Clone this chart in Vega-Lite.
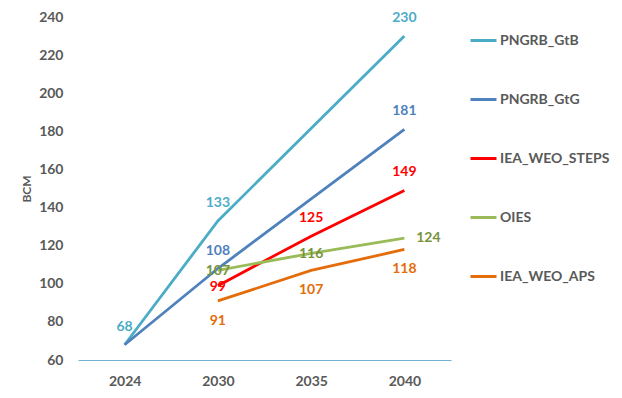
{
  "$schema": "https://vega.github.io/schema/vega-lite/v6.json",
  "autosize": "none",
  "width": 373,
  "height": 343,
  "padding": {"left": 78, "top": 17, "right": 171, "bottom": 38},
  "background": "white",
  "config": {
    "view": {"stroke": null},
    "font": "Lato",
    "axis": {"labelFont": "Lato", "labelFontWeight": "bold", "labelColor": "#595959", "labelFontSize": 14, "titleFont": "Lato", "titleColor": "#595959"},
    "legend": {"labelFont": "Lato"}
  },
  "data": {"values": [
    {"series": "PNGRB_GtB", "year": "2024", "value": 68},
    {"series": "PNGRB_GtB", "year": "2030", "value": 133},
    {"series": "PNGRB_GtB", "year": "2040", "value": 230},
    {"series": "PNGRB_GtG", "year": "2024", "value": 68},
    {"series": "PNGRB_GtG", "year": "2030", "value": 108},
    {"series": "PNGRB_GtG", "year": "2040", "value": 181},
    {"series": "IEA_WEO_STEPS", "year": "2030", "value": 99},
    {"series": "IEA_WEO_STEPS", "year": "2035", "value": 125},
    {"series": "IEA_WEO_STEPS", "year": "2040", "value": 149},
    {"series": "OIES", "year": "2030", "value": 107},
    {"series": "OIES", "year": "2035", "value": 116},
    {"series": "OIES", "year": "2040", "value": 124},
    {"series": "IEA_WEO_APS", "year": "2030", "value": 91},
    {"series": "IEA_WEO_APS", "year": "2035", "value": 107},
    {"series": "IEA_WEO_APS", "year": "2040", "value": 118}
  ]},
  "encoding": {
    "x": {"field": "year", "type": "ordinal", "sort": ["2024", "2030", "2035", "2040"],
      "scale": {"type": "point", "padding": 0.5},
      "axis": {"title": null, "labelAngle": 0, "ticks": false, "domain": true, "domainColor": "#6FB1D0", "domainWidth": 1.2, "labelPadding": 14, "grid": false}},
    "y": {"field": "value", "type": "quantitative", "scale": {"domain": [60, 240], "nice": false, "zero": false},
      "axis": {"title": "BCM", "titleFontSize": 12, "titleFontWeight": "bold", "titlePadding": 5, "values": [60, 80, 100, 120, 140, 160, 180, 200, 220, 240], "domain": false, "ticks": false, "grid": false, "labelPadding": 15}}
  },
  "resolve": {"scale": {"color": "independent"}},
  "layer": [
    {
      "mark": {"type": "line", "strokeWidth": 2.8},
      "encoding": {
        "color": {"field": "series", "type": "nominal",
          "scale": {"domain": ["PNGRB_GtB", "PNGRB_GtG", "IEA_WEO_STEPS", "OIES", "IEA_WEO_APS"], "range": ["#4BACC6", "#4F81BD", "#FF0000", "#9BBB59", "#E46C0A"]},
          "legend": {"title": null, "orient": "none", "legendX": 391, "legendY": 9, "symbolType": "stroke", "symbolSize": 676, "symbolStrokeWidth": 3, "labelFontSize": 14, "labelFontWeight": "bold", "labelColor": "#595959", "labelOffset": 2, "rowPadding": 37}}
      }
    },
    {
      "transform": [{"filter": "(datum.series == 'PNGRB_GtB') || (datum.series == 'PNGRB_GtG' && datum.year != '2024') || (datum.series == 'IEA_WEO_STEPS' && datum.year != '2030')"}],
      "mark": {"type": "text", "fontSize": 14, "fontWeight": "bold", "dy": -18, "baseline": "middle"},
      "encoding": {
        "text": {"field": "value", "type": "quantitative"},
        "color": {"field": "series", "type": "nominal", "legend": null,
          "scale": {"domain": ["PNGRB_GtB", "PNGRB_GtG", "IEA_WEO_STEPS", "OIES", "IEA_WEO_APS"], "range": ["#4BACC6", "#4F81BD", "#FF0000", "#77933C", "#E46C0A"]}}
      }
    },
    {
      "transform": [{"filter": "(datum.series == 'OIES' && datum.year != '2040') || (datum.series == 'IEA_WEO_STEPS' && datum.year == '2030')"}],
      "mark": {"type": "text", "fontSize": 14, "fontWeight": "bold", "dy": 1, "baseline": "middle"},
      "encoding": {
        "text": {"field": "value", "type": "quantitative"},
        "color": {"field": "series", "type": "nominal", "legend": null,
          "scale": {"domain": ["PNGRB_GtB", "PNGRB_GtG", "IEA_WEO_STEPS", "OIES", "IEA_WEO_APS"], "range": ["#4BACC6", "#4F81BD", "#FF0000", "#77933C", "#E46C0A"]}}
      }
    },
    {
      "transform": [{"filter": "datum.series == 'OIES' && datum.year == '2040'"}],
      "mark": {"type": "text", "fontSize": 14, "fontWeight": "bold", "dx": 24, "baseline": "middle"},
      "encoding": {
        "text": {"field": "value", "type": "quantitative"},
        "color": {"field": "series", "type": "nominal", "legend": null,
          "scale": {"domain": ["PNGRB_GtB", "PNGRB_GtG", "IEA_WEO_STEPS", "OIES", "IEA_WEO_APS"], "range": ["#4BACC6", "#4F81BD", "#FF0000", "#77933C", "#E46C0A"]}}
      }
    },
    {
      "transform": [{"filter": "datum.series == 'IEA_WEO_APS'"}],
      "mark": {"type": "text", "fontSize": 14, "fontWeight": "bold", "dy": 20, "baseline": "middle"},
      "encoding": {
        "text": {"field": "value", "type": "quantitative"},
        "color": {"field": "series", "type": "nominal", "legend": null,
          "scale": {"domain": ["PNGRB_GtB", "PNGRB_GtG", "IEA_WEO_STEPS", "OIES", "IEA_WEO_APS"], "range": ["#4BACC6", "#4F81BD", "#FF0000", "#77933C", "#E46C0A"]}}
      }
    }
  ]
}
